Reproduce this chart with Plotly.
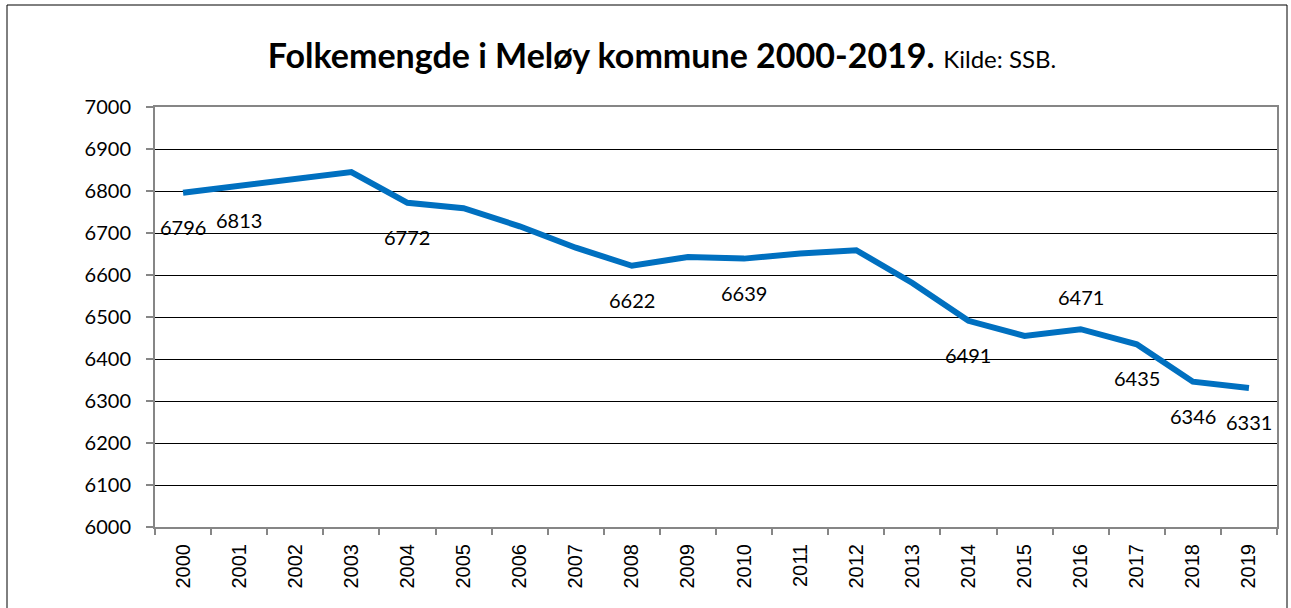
import plotly.graph_objects as go

years = [str(y) for y in range(2000, 2020)]
population = [6796, 6813, 6829, 6845, 6772, 6759, 6716, 6665, 6622, 6643,
              6639, 6651, 6659, 6581, 6491, 6455, 6471, 6435, 6346, 6331]
labeled_years = ["2000", "2001", "2004", "2008", "2010", "2014", "2016", "2017", "2018", "2019"]
labels_above = ["2016"]
y_ticks = list(range(6000, 7001, 100))

fig = go.Figure()
fig.add_trace(go.Scatter(
    x=years, y=population, mode="lines",
    line=dict(color="#0070C0", width=6),
    hoverinfo="x+y", showlegend=False,
))

annotations = []
for i, (yr, val) in enumerate(zip(years, population)):
    if yr in labeled_years:
        above = yr in labels_above
        annotations.append(dict(
            x=i, y=val, xref="x", yref="y", text=str(val), showarrow=False,
            yshift=32 if above else -34,
            font=dict(family="Lato, Calibri, sans-serif", size=20, color="#000000"),
        ))

fig.update_layout(
    width=1291, height=608,
    margin=dict(l=155, r=14, t=107, b=81),
    paper_bgcolor="white", plot_bgcolor="white",
    title=dict(
        text="<b>Folkemengde i Meløy kommune 2000-2019.</b> <span style='font-size:24px'>Kilde: SSB.</span>",
        font=dict(family="Lato, Calibri, sans-serif", size=34, color="#000000"),
        x=662 / 1291, xanchor="center", y=1 - 56 / 608, yanchor="middle",
    ),
    annotations=annotations,
    xaxis=dict(
        type="category", categoryorder="array", categoryarray=years,
        range=[-0.5, len(years) - 0.5], autorange=False,
        tickson="boundaries", ticks="outside", ticklen=6,
        tickcolor="#868686", tickwidth=1.5,
        showline=True, linecolor="#868686", linewidth=2, mirror=True,
        showgrid=False, tickangle=-90, ticklabelstandoff=7,
        tickfont=dict(family="Liberation Sans, Arial, sans-serif", size=20, color="#000000"),
    ),
    yaxis=dict(
        range=[6000, 7000], autorange=False, tickmode="array", tickvals=y_ticks,
        ticktext=[str(v) for v in y_ticks],
        ticks="outside", ticklen=7, tickcolor="#868686", tickwidth=1.5,
        showline=True, linecolor="#868686", linewidth=2, mirror=True,
        showgrid=True, gridcolor="#000000", gridwidth=1, zeroline=False,
        tickfont=dict(family="Lato, Calibri, sans-serif", size=20, color="#000000"),
        ticklabelstandoff=11,
    ),
    shapes=[dict(
        type="rect", xref="paper", yref="paper",
        x0=(7 - 155) / 1122, x1=(1287 - 155) / 1122,
        y0=-0.3, y1=(527 - 5) / 420,
        line=dict(color="#000000", width=1), fillcolor="rgba(0,0,0,0)", layer="below",
    )],
)

fig.write_html(
    "out.html",
    config={"displayModeBar": False},
    post_script="document.body.style.margin='0';document.body.style.overflow='hidden';",
)
